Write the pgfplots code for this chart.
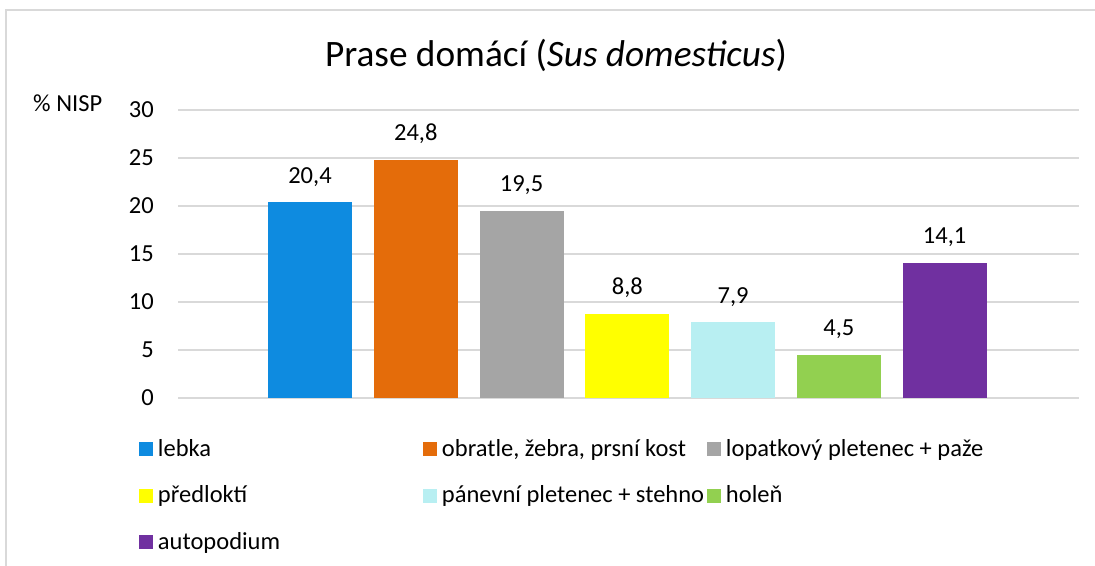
\documentclass[border=0pt]{standalone}
\usepackage{pgfplots}
\pgfplotsset{compat=1.18}
\usepackage{fontspec}
\setmainfont{Carlito}
\definecolor{c1}{HTML}{0E8BE0}
\definecolor{c2}{HTML}{E46C0A}
\definecolor{c3}{HTML}{A5A5A5}
\definecolor{c4}{HTML}{FFFF00}
\definecolor{c5}{HTML}{B8EFF2}
\definecolor{c6}{HTML}{92D050}
\definecolor{c7}{HTML}{7030A0}
\definecolor{gridc}{HTML}{D9D9D9}
\newcommand{\lent}[1]{\makebox[260bp][l]{#1}}
\newcommand{\sfont}{\fontsize{24.5bp}{29bp}\selectfont}
\pgfplotsset{sqleg/.style={legend image code/.code={\fill[##1] (0bp,0bp) rectangle (14bp,14bp);}}}
\begin{document}
\begin{tikzpicture}
\path[use as bounding box] (0,0) rectangle (1095bp,566bp);
\fill[white] (0,0) rectangle (1095bp,566bp);
\draw[color=gridc, line width=1.3bp] (6bp,-5bp) -- (6bp,556bp) -- (1100bp,556bp);
\node[anchor=base, font=\fontsize{37.3bp}{44bp}\selectfont] at (556bp,499bp) {Prase domácí (\textit{Sus domesticus})};
\node[anchor=base west, inner sep=0pt, font=\sfont] at (33bp,454bp) {\% NISP};
\begin{axis}[
  at={(178bp,168bp)}, anchor=south west, scale only axis, width=901bp, height=288bp,
  xmin=-1.248, xmax=7.27, ymin=0, ymax=30,
  ytick={0,5,...,30}, xtick=\empty,
  ymajorgrids, major grid style={line width=1.3bp, color=gridc},
  axis line style={draw=none}, major tick length=0pt,
  /pgf/number format/assume math mode=true,
  yticklabel style={inner sep=0pt, anchor=east, xshift=-24bp, font=\sfont},
  ybar, bar width=0.794,
  nodes near coords={\pgfmathprintnumber[fixed,fixed zerofill,precision=1,use comma]{\pgfplotspointmeta}},
  nodes near coords style={anchor=base, yshift=19bp, inner sep=0pt, font=\sfont, text=black},
  legend columns=3, legend cell align=left,
  legend style={at={(-0.0433,-0.1493)}, anchor=north west, draw=none, fill=none, inner sep=0pt, outer sep=0pt, column sep=5bp, row sep=26.5bp, nodes={inner sep=0pt, outer sep=0pt, text height=15bp, text depth=5bp, anchor=base west, font=\sfont}},
]
\addplot[fill=c1, draw=none, bar shift=0pt, sqleg] coordinates {(0,20.4)};
\addlegendentry{\lent{lebka}}
\addplot[fill=c2, draw=none, bar shift=0pt, sqleg] coordinates {(1,24.8)};
\addlegendentry{\lent{obratle, žebra, prsní kost}}
\addplot[fill=c3, draw=none, bar shift=0pt, sqleg] coordinates {(2,19.5)};
\addlegendentry{\lent{lopatkový pletenec + paže}}
\addplot[fill=c4, draw=none, bar shift=0pt, sqleg] coordinates {(3,8.8)};
\addlegendentry{\lent{předloktí}}
\addplot[fill=c5, draw=none, bar shift=0pt, sqleg] coordinates {(4,7.9)};
\addlegendentry{\lent{pánevní pletenec + stehno}}
\addplot[fill=c6, draw=none, bar shift=0pt, sqleg] coordinates {(5,4.5)};
\addlegendentry{\lent{holeň}}
\addplot[fill=c7, draw=none, bar shift=0pt, sqleg] coordinates {(6,14.1)};
\addlegendentry{\lent{autopodium}}
\end{axis}
\end{tikzpicture}
\end{document}
